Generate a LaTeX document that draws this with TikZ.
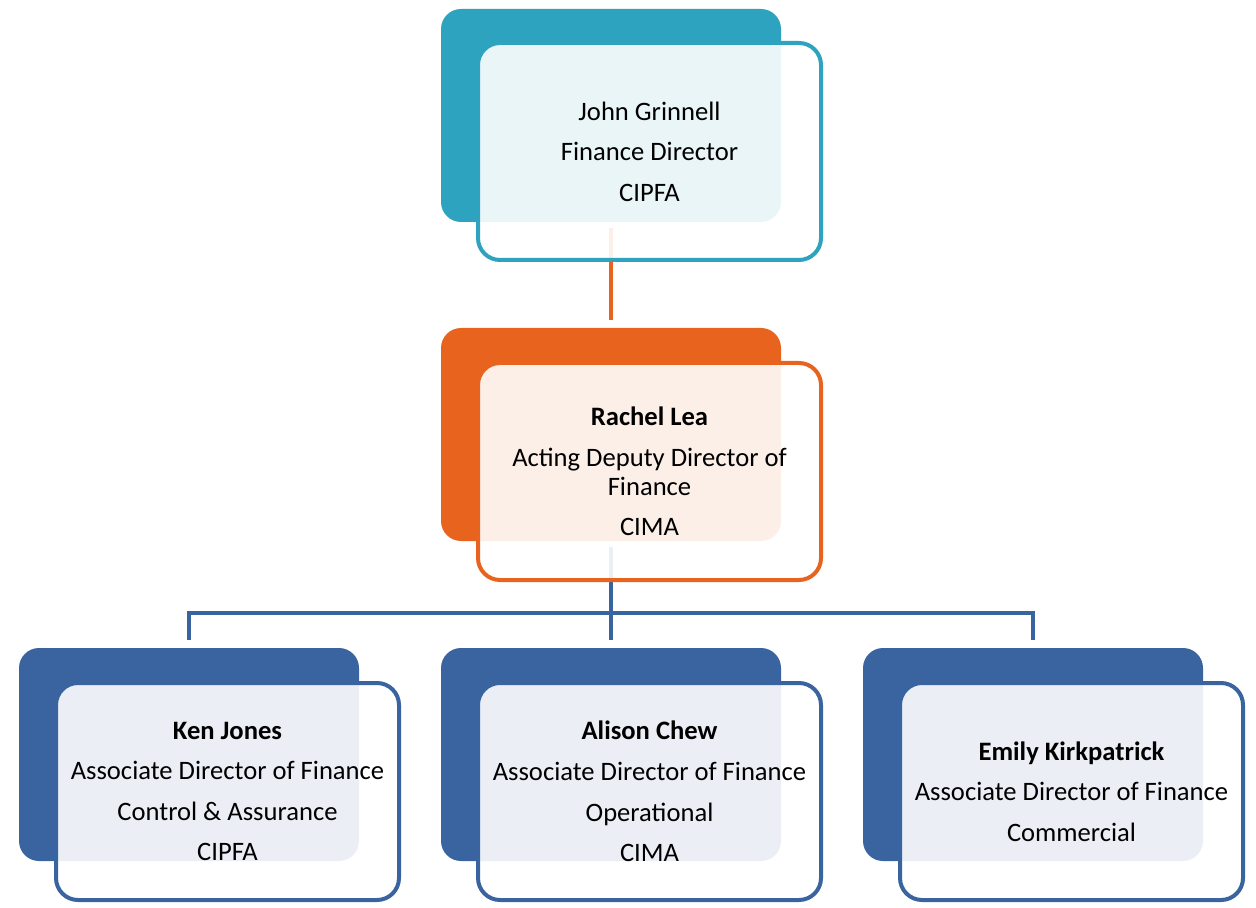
\documentclass[tikz,border=0pt]{standalone}
\usepackage{fontspec}
\setmainfont{Carlito}
\definecolor{cteal}{HTML}{2EA3BF}
\definecolor{corange}{HTML}{E8641E}
\definecolor{cblue}{HTML}{3A64A0}
\begin{document}
\begin{tikzpicture}[x=0.5pt,y=-0.5pt,
  backbox/.style={rectangle,rounded corners=10pt,inner sep=0pt,outer sep=0pt,
    minimum width=170pt,minimum height=106.5pt,anchor=north west,fill=#1},
  frontbox/.style={rectangle,rounded corners=11pt,inner sep=0pt,outer sep=0pt,
    minimum width=171.5pt,minimum height=108.5pt,anchor=north west,
    draw=#1,line width=2pt,fill=white,fill opacity=0.9,text opacity=1,
    align=center,font=\fontsize{13.3}{14.5}\selectfont},
  conn/.style={line width=2.4pt,draw=#1}]
\useasboundingbox (0,0) rectangle (1256,908);
% back boxes
\node[backbox=cteal] (topback) at (441,9) {};
\node[backbox=corange] (midback) at (441,328) {};
\node[backbox=cblue] (b1back) at (19,648) {};
\node[backbox=cblue] (b2back) at (441,648) {};
\node[backbox=cblue] (b3back) at (863,648) {};
% connectors
\coordinate (bus) at (611,613);
\draw[conn=corange] ([yshift=-3pt]topback.south) -- ([yshift=4pt]midback.north);
\draw[conn=cblue] ([yshift=-3pt]midback.south) -- ([yshift=4pt]b2back.north);
\draw[conn=cblue] ([yshift=4pt]b1back.north) |- (bus) -| ([yshift=4pt]b3back.north);
% front boxes
\node[frontbox=cteal] (top) at (478,43) {John Grinnell\\[5.8pt]Finance Director\\[5.8pt]CIPFA};
\node[frontbox=corange] (mid) at (478,363) {\textbf{Rachel Lea}\\[5.8pt]Acting Deputy Director of\\Finance\\[5.8pt]CIMA};
\node[frontbox=cblue] (b1) at (56,683) {\textbf{Ken Jones}\\[5.8pt]Associate Director of Finance\\[5.8pt]Control \& Assurance\\[5.8pt]CIPFA};
\node[frontbox=cblue] (b2) at (478,683) {\textbf{Alison Chew}\\[5.8pt]Associate Director of Finance\\[5.8pt]Operational\\[5.8pt]CIMA};
\node[frontbox=cblue] (b3) at (900,683) {\textbf{Emily Kirkpatrick}\\[5.8pt]Associate Director of Finance\\[5.8pt]Commercial};
\end{tikzpicture}
\end{document}
